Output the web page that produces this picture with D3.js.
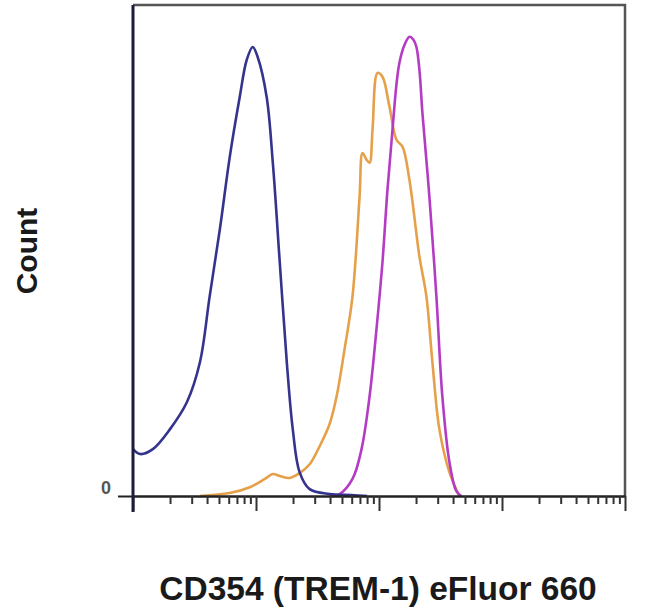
<!DOCTYPE html>
<html>
<head>
<meta charset="utf-8">
<script src="https://cdn.jsdelivr.net/npm/d3@7"></script>
<style>
  html, body { margin: 0; padding: 0; background: #fff; }
  svg { display: block; }
</style>
</head>
<body>
<svg id="chart" width="650" height="616"></svg>
<script>
// ---- data (fluorescence intensity, relative count) ----
const blueX = [1, 1.14, 1.45, 2.0, 2.74, 3.5, 4.2, 5.08, 6.12, 7.38, 8.41, 9.41, 10.3, 12.2, 13.7, 15.6, 17.8, 19.9, 22.6, 27.3, 39.6, 60, 80];
const blueY = [9.6, 8.6, 9.6, 13.7, 19.2, 27.4, 40.9, 54.6, 69.5, 81.8, 89.4, 92.0, 90.0, 81.8, 68.3, 47.9, 27.4, 13.7, 4.9, 1.4, 0.4, 0.2, 0];

const orangeX = [3.5, 6.1, 8.9, 11.8, 13.7, 15.6, 18.8, 22.6, 27.3, 32.9, 39.6, 45.2, 52.5, 60.9, 69.5, 73.5, 79.2, 83.8, 88.6, 97.3, 106.7, 121.6, 138.6, 155.2, 176.7, 213.1, 242.9, 271.8, 309.6, 373.3, 449.8];
const orangeY = [0, 0.6, 1.8, 3.5, 4.5, 4.1, 3.7, 4.7, 6.5, 10.2, 14.7, 20.4, 30.1, 40.9, 61.3, 70.3, 68.9, 68.3, 75.1, 86.7, 85.9, 79.8, 73.0, 71.6, 64.8, 49.1, 40.9, 27.4, 13.7, 4.9, 0];

const magentaX = [39.6, 47.8, 60.9, 72.1, 83.8, 95.4, 106.7, 117.2, 128.8, 138.6, 146.6, 161.1, 176.7, 190.5, 201.5, 213.1, 225.4, 256.9, 292.8, 327.4, 373.3, 425.6, 467];
const magentaY = [0, 0.4, 3.5, 9.6, 20.4, 34.2, 47.9, 62.8, 75.1, 84.3, 88.8, 92.4, 94.1, 93.5, 92.0, 87.3, 78.5, 61.3, 40.9, 20.4, 7.0, 1.0, 0];

const xDomain = [1, 10000];
const yLabel = "Count";
const xLabel = "CD354 (TREM-1) eFluor 660";
const yTickLabels = ["0"];

// ---- layout ----
const mLeft = 133, mRight = 625, mTop = 5, mBottom = 496;
const svg = d3.select("#chart");

const x = d3.scaleLog().domain(xDomain).range([mLeft, mRight]);
const y = d3.scaleLinear().domain([0, 100]).range([mBottom, 8]);

// frame (top & right)
svg.append("path")
  .attr("d", `M${mLeft},${mTop}H${mRight}V${mBottom}`)
  .attr("fill", "none").attr("stroke", "#555").attr("stroke-width", 2.5);

// curves
const line = d3.line().x(d => x(d[0])).y(d => y(d[1])).curve(d3.curveCatmullRom.alpha(0.5));
const series = [
  {xs: orangeX, ys: orangeY, color: "#e6a04a"},
  {xs: magentaX, ys: magentaY, color: "#b43cc4"},
  {xs: blueX, ys: blueY, color: "#34348e"}
];
series.forEach(s => {
  svg.append("path")
    .datum(s.xs.map((v, i) => [v, s.ys[i]]))
    .attr("d", line)
    .attr("fill", "none")
    .attr("stroke", s.color)
    .attr("stroke-width", 2.6)
    .attr("stroke-linejoin", "round");
});

// bottom axis with log ticks, no labels
const xAxis = d3.axisBottom(x)
  .tickValues(d3.range(0, 4).flatMap(e => d3.range(1, 10).map(m => m * Math.pow(10, e))).concat([10000]))
  .tickFormat("")
  .tickSizeOuter(0);
const gx = svg.append("g").attr("transform", `translate(0,${mBottom})`).call(xAxis);
gx.select(".domain").attr("stroke", "#222").attr("stroke-width", 2.5);
gx.selectAll(".tick line")
  .attr("stroke", "#333")
  .attr("stroke-width", 2)
  .attr("y2", d => (Math.abs(Math.log10(d) - Math.round(Math.log10(d))) < 1e-9) ? 15 : 8);

// left axis
const yAxis = d3.axisLeft(y).tickValues([0]).tickFormat((d, i) => yTickLabels[i]).tickSize(15).tickSizeOuter(0);
const gy = svg.append("g").attr("transform", `translate(${mLeft},0)`).call(yAxis);
gy.select(".domain").remove();
gy.selectAll(".tick line").attr("stroke", "#222").attr("stroke-width", 2);
gy.selectAll(".tick text")
  .attr("x", -22).attr("dy", "-0.15em")
  .attr("font-family", "Liberation Sans, Arial, sans-serif")
  .attr("font-size", 18).attr("font-weight", "bold").attr("fill", "#555");
svg.append("line")
  .attr("x1", mLeft).attr("x2", mLeft).attr("y1", mTop).attr("y2", mBottom + 16)
  .attr("stroke", "#1c1c3c").attr("stroke-width", 3);

// axis titles
svg.append("text")
  .attr("transform", `translate(37,251) rotate(-90)`)
  .attr("text-anchor", "middle")
  .attr("font-family", "Liberation Sans, Arial, sans-serif")
  .attr("font-size", 30).attr("font-weight", "bold").attr("fill", "#1a1a1a")
  .text(yLabel);

svg.append("text")
  .attr("x", 378).attr("y", 600)
  .attr("text-anchor", "middle")
  .attr("font-family", "Liberation Sans, Arial, sans-serif")
  .attr("font-size", 33.5).attr("font-weight", "bold").attr("fill", "#1a1a1a")
  .text(xLabel);
</script>
</body>
</html>
